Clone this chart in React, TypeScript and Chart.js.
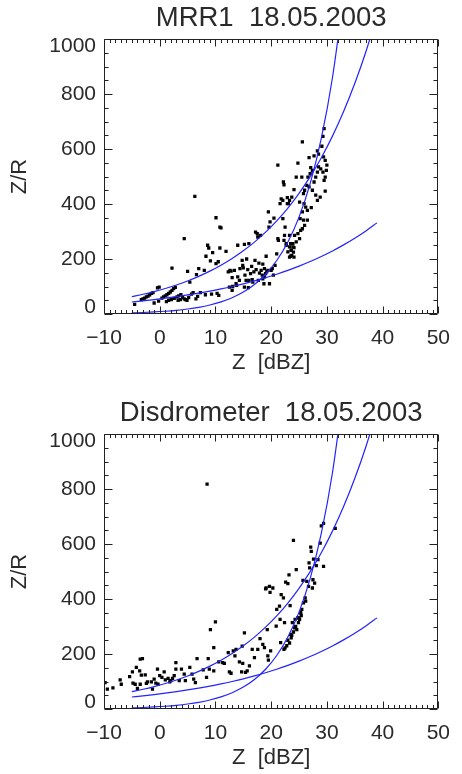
import { useEffect, useRef } from "react";
import { Chart, registerables } from "chart.js";

Chart.register(...registerables);

// ---------- tick values ----------
const X_TICKS = [-10, 0, 10, 20, 30, 40, 50];
const Y_TICKS = [0, 200, 400, 600, 800, 1000];
const X_MINOR_STEP = 1;
const Y_MINOR_STEP = 50;

// ---------- Z-R reference curves ----------
const curveZ = [-5, -3, -1, 1, 3, 5, 7, 9, 11, 13, 15, 17, 19, 21, 23, 25, 27, 29, 31, 33, 35, 37, 39];
const curveLow = [43.7, 47.9, 52.5, 57.6, 63.1, 69.3, 75.9, 83.2, 91.3, 100.1, 109.7, 120.3, 131.9, 144.7, 158.6, 173.9, 190.7, 209.1, 229.3, 251.4, 275.7, 302.2, 331.4];
const curveMid = [63.0, 71.7, 81.6, 92.8, 105.6, 120.2, 136.9, 155.8, 177.3, 201.8, 229.7, 261.4, 297.5, 338.6, 385.4, 438.7, 499.3, 568.3, 646.8, 736.2, 837.9, 953.7, 1087];
const curveSteep = [4.1, 5.5, 7.4, 10.0, 13.4, 18.1, 24.3, 32.7, 44.1, 59.3, 79.8, 107.4, 144.6, 194.5, 261.8, 352.4, 474.2, 638.3, 859.0, 1156];

// ---------- MRR1 scatter ----------
const mrrZ = [
  -4.5, -3.3, -3.0, -2.7, -2.4, -2.1, -1.8, -1.5, -1.2, -0.4, -0.1, -1.0, -0.2,
  0.4, 0.7, 1.0, 1.3, 1.6, 1.9, 2.2, 2.5, 2.8, 1.2, 1.6, 2.1, 2.6, 2.2,
  3.1, 3.4, 3.8, 4.1, 4.4, 3.3, 3.7, 4.4, 4.6, 4.9, 5.2, 5.0, 5.4, 5.7, 6.0,
  6.3, 6.5, 6.8, 6.6, 7.0, 7.3, 8.0, 8.2, 8.3, 8.6, 8.8, 9.1, 9.3, 9.5,
  10.1, 10.1, 10.3, 10.6, 10.8, 10.5, 12.5, 13.0, 13.1, 15.9,
  10.8, 11.0, 11.9, 12.3, 12.6, 12.8, 13.0, 13.4, 13.7, 13.8, 14.0, 14.0, 14.3, 14.4,
  14.8, 14.9, 15.0, 15.2, 15.2, 15.3, 15.5, 15.6, 15.8, 16.0, 16.0, 16.3, 16.5, 16.6,
  16.7, 16.9, 17.1, 17.2, 17.3, 17.5, 17.6, 17.7, 17.8, 17.9, 18.1, 18.2, 18.4, 18.5,
  18.5, 18.7, 18.8, 18.8, 19.0, 19.1, 19.2, 19.4, 19.5, 19.6, 19.8, 19.7, 20.0, 20.2,
  20.4, 20.7, 21.0, 21.2, 21.3, 21.6, 21.8, 22.1, 22.1, 22.3, 22.4, 22.5, 22.7, 22.9,
  23.1, 23.3, 23.5, 23.6, 23.7, 23.9, 24.0, 24.1, 21.2, 22.2, 22.3, 20.5,
  25.6, 24.8, 25.5, 24.5, 26.8, 27.7, 28.3, 28.5, 29.1, 29.3, 29.5, 29.4, 29.7, 30.0,
  29.9, 29.7, 29.5, 29.3, 28.9, 28.5, 28.3, 28.0, 27.7, 27.4, 27.1, 27.0, 26.6, 26.4,
  26.0, 25.8, 26.8, 27.4, 28.0, 28.3, 28.8, 29.7, 27.2, 24.1, 23.7, 23.3, 22.9, 25.1,
  25.9, 26.2, 26.5, 25.6, 25.2, 25.8, 26.5, 26.0, 25.3, 25.6, 24.8, 24.2, 24.5, 25.1,
  23.9, 23.3, 22.7, 23.6, 23.0, 23.5, 24.1, 23.3
];
const mrrZR = [
  35, 52, 55, 58, 62, 65, 70, 75, 78, 95, 98, 40, 47,
  58, 62, 66, 70, 75, 80, 86, 92, 97, 45, 50, 52, 57, 167,
  62, 66, 70, 60, 55, 50, 52, 274, 52, 50, 60, 155, 116, 72, 78,
  428, 55, 64, 143, 165, 78, 159, 70, 210, 250, 240, 193, 72, 223,
  350, 183, 75, 68, 316, 190, 98, 86, 100, 96,
  240, 313, 228, 153, 159, 156, 132, 159, 110, 104, 250, 135, 122, 165,
  195, 177, 168, 253, 98, 141, 122, 200, 161, 256, 122, 147, 173, 125,
  116, 153, 195, 298, 161, 292, 280, 122, 185, 149, 286, 159, 141, 181,
  128, 110, 165, 135, 147, 210, 153, 159, 371, 316, 335, 110, 159, 165,
  141, 177, 219, 274, 268, 401, 419, 413, 347, 268, 286, 316, 250, 423,
  401, 286, 256, 231, 213, 244, 225, 207, 541, 480, 470, 349,
  626, 549, 498, 498, 569, 575, 593, 581, 610, 646, 674, 571, 559, 541,
  522, 498, 486, 516, 528, 535, 516, 498, 480, 522, 532, 510, 498, 468,
  450, 438, 462, 450, 432, 413, 425, 447, 387, 452, 425, 413, 401, 407,
  401, 389, 377, 371, 347, 341, 341, 322, 304, 310, 292, 286, 262, 274,
  256, 244, 256, 232, 226, 210, 241, 207
];

// ---------- Disdrometer scatter ----------
const disZ = [
  -9.8, -9.4, -8.4, -7.1, -6.9, -5.4, -4.9, -4.8, -4.4, -4.2, -4.0, -3.6, -3.5, -3.1,
  -3.5, -3.3, -2.6, -2.4, -2.2, -1.5, -1.3, -1.0, -0.7, -0.4, -0.3, 0.0, 0.4, 0.8,
  1.0, 1.5, 1.8, 2.0, 2.3, 2.6, 2.9, 2.9, 3.5, 3.9, 4.4, 4.6, 5.4, 5.8, 6.1, 6.4,
  6.7, 7.8, 8.4, 8.5, 8.7, 8.9, 9.1, 9.7, 9.7, 10.0, 10.6, 11.3, 11.6, 12.3, 12.5,
  12.8, 13.2, 13.5, 13.7, 14.3, 14.7, 14.8, 14.9, 15.2, 15.4, 15.7, 16.1, 16.6, 17.0,
  17.6, 18.0, 18.5, 18.8, 19.0, 19.1, 19.3, 19.4, 19.5, 19.7, 19.8, 19.9, 20.3, 20.9,
  21.0, 21.5, 21.6, 21.7, 21.8, 22.2, 22.3, 22.4, 22.6, 23.0, 23.2, 23.4, 23.5, 23.6,
  23.8, 24.0, 24.3, 24.5, 24.6, 24.8, 24.9, 25.1, 25.3, 25.5, 25.7, 25.8, 26.1, 26.2,
  26.4, 26.7, 26.8, 26.9, 27.1, 27.2, 27.4, 27.5, 27.6, 27.8, 28.1, 28.4, 28.8, 29.0,
  29.4, 29.4, 31.5, 23.0, 23.3, 23.7, 24.0, 24.4, 25.0, 25.4, 22.8, 22.5, 24.2
];
const disZR = [
  96, 72, 77, 106, 90, 118, 135, 94, 90, 151, 75, 139, 181, 183,
  90, 123, 124, 93, 99, 99, 72, 109, 94, 145, 90, 121, 115, 135,
  106, 111, 99, 103, 111, 121, 169, 145, 103, 145, 127, 103, 151, 127, 109, 96,
  183, 142, 115, 818, 183, 145, 289, 139, 223, 317, 171, 169, 166, 205, 135,
  130, 211, 193, 217, 171, 135, 229, 166, 277, 133, 139, 157, 217, 187,
  217, 256, 235, 223, 437, 440, 289, 193, 178, 446, 424, 211, 440, 301,
  362, 374, 326, 241, 416, 404, 217, 314, 461, 456, 488, 376, 271, 259,
  314, 613, 326, 507, 289, 332, 314, 326, 350, 362, 468, 386, 404, 392,
  464, 446, 531, 513, 589, 573, 440, 470, 545, 458, 521, 543, 603, 666,
  675, 519, 657, 250, 240, 268, 280, 300, 330, 340, 230, 222, 295
];

const FONT = "'Liberation Sans', Arial, Helvetica, sans-serif";
const TEXT = "#2a2a2a";
const BLUE = "rgb(35,35,255)";

const zip = (xs: number[], ys: number[]) =>
  ys.map((y, i) => ({ x: xs[i], y }));

const framePlugin = {
  id: "idlFrame",
  afterDatasetsDraw(chart: any) {
    const { ctx, chartArea: a, scales } = chart;
    const xs = scales.x;
    const ys = scales.y;
    ctx.save();
    ctx.strokeStyle = "#222";
    ctx.lineWidth = 1;
    const L = Math.round(a.left) + 0.5;
    const R = Math.round(a.right) - 0.5;
    const T = Math.round(a.top) + 0.5;
    const B = Math.round(a.bottom) - 0.5;
    ctx.beginPath();
    ctx.rect(L, T, R - L, B - T);
    ctx.stroke();
    ctx.beginPath();
    const xMin = X_TICKS[0];
    const xMax = X_TICKS[X_TICKS.length - 1];
    for (let v = xMin; v <= xMax + 1e-9; v += X_MINOR_STEP) {
      const major = X_TICKS.includes(Math.round(v));
      const len = major ? 7 : 3.5;
      const px = Math.round(xs.getPixelForValue(v)) + 0.5;
      ctx.moveTo(px, B);
      ctx.lineTo(px, B - len);
      ctx.moveTo(px, T);
      ctx.lineTo(px, T + len);
    }
    const yMin = Y_TICKS[0];
    const yMax = Y_TICKS[Y_TICKS.length - 1];
    for (let v = yMin; v <= yMax + 1e-9; v += Y_MINOR_STEP) {
      const major = Y_TICKS.includes(Math.round(v));
      const len = major ? 8 : 4;
      const py = Math.round(ys.getPixelForValue(v)) + 0.5;
      ctx.moveTo(L, py);
      ctx.lineTo(L + len, py);
      ctx.moveTo(R, py);
      ctx.lineTo(R - len, py);
    }
    ctx.stroke();

    // y tick labels, IDL style: end labels pulled inside the axis range
    ctx.fillStyle = TEXT;
    ctx.font = "21px " + FONT;
    ctx.textAlign = "right";
    ctx.textBaseline = "middle";
    Y_TICKS.forEach((v, i) => {
      let py = ys.getPixelForValue(v);
      if (i === 0) py -= 7;
      if (i === Y_TICKS.length - 1) py += 7;
      ctx.fillText(String(v), a.left - 8, py);
    });
    ctx.restore();
  },
};

function curveDataset(values: number[]) {
  return {
    type: "line" as const,
    data: zip(curveZ, values),
    borderColor: BLUE,
    borderWidth: 1.2,
    pointRadius: 0,
    fill: false,
    cubicInterpolationMode: "monotone" as const,
    clip: 0,
  };
}

function Panel({ title, zs, rs, rightPad }: { title: string; zs: number[]; rs: number[]; rightPad: number }) {
  const ref = useRef<HTMLCanvasElement>(null);
  useEffect(() => {
    const chart = new Chart(ref.current as HTMLCanvasElement, {
      type: "scatter",
      data: {
        datasets: [
          curveDataset(curveMid) as any,
          curveDataset(curveLow) as any,
          curveDataset(curveSteep) as any,
          {
            type: "scatter",
            data: zip(zs, rs),
            pointStyle: "rect",
            pointRadius: 2.3,
            pointBorderWidth: 0,
            borderWidth: 0,
            backgroundColor: "#000",
            pointBackgroundColor: "#000",
            clip: 0,
          },
        ],
      },
      options: {
        animation: false,
        responsive: false,
        events: [],
        layout: { padding: { left: 0, right: rightPad, top: 0, bottom: 0 } },
        plugins: {
          legend: { display: false },
          tooltip: { enabled: false },
          title: {
            display: true,
            text: title,
            fullSize: false,
            color: TEXT,
            font: { family: FONT, size: 27.5, weight: "normal" },
            padding: { top: 1.5, bottom: 4.5 },
          },
        },
        scales: {
          x: {
            type: "linear",
            min: X_TICKS[0],
            max: X_TICKS[X_TICKS.length - 1],
            afterBuildTicks: (s: any) => {
              s.ticks = X_TICKS.map((v) => ({ value: v }));
            },
            grid: { display: false, drawTicks: false },
            border: { display: false },
            ticks: {
              color: TEXT,
              font: { family: FONT, size: 21 },
              padding: 12,
              maxRotation: 0,
              autoSkip: false,
              callback: (v: any) => (Number(v) < 0 ? "\u2212" + Math.abs(Number(v)) : String(v)),
            },
            title: {
              display: true,
              text: "Z  [dBZ]",
              color: TEXT,
              font: { family: FONT, size: 22 },
              padding: { top: 0, bottom: 18.8 },
            },
            afterFit: (s: any) => {
              s.height = 81;
            },
          },
          y: {
            type: "linear",
            min: Y_TICKS[0],
            max: Y_TICKS[Y_TICKS.length - 1],
            afterBuildTicks: (s: any) => {
              s.ticks = Y_TICKS.map((v) => ({ value: v }));
            },
            grid: { display: false, drawTicks: false },
            border: { display: false },
            ticks: { display: false },
            title: {
              display: true,
              text: "Z/R",
              color: TEXT,
              font: { family: FONT, size: 22 },
              padding: { top: 6.8, bottom: 0 },
            },
            afterFit: (s: any) => {
              s.width = 104;
            },
          },
        },
      },
      plugins: [framePlugin],
    } as any);
    return () => chart.destroy();
  }, [title, zs, rs, rightPad]);
  return <canvas ref={ref} width={462} height={395} style={{ display: "block", width: 462, height: 395 }} />;
}

export default function App() {
  return (
    <div style={{ position: "absolute", left: 0, top: 0, width: 462, height: 774, overflow: "hidden", background: "#fff" }}>
      <div style={{ position: "absolute", left: 0, top: 0 }}>
        <Panel title={"MRR1  18.05.2003"} zs={mrrZ} rs={mrrZR} rightPad={14} />
      </div>
      <div style={{ position: "absolute", left: 0, top: 395 }}>
        <Panel title={"Disdrometer  18.05.2003"} zs={disZ} rs={disZR} rightPad={13} />
      </div>
    </div>
  );
}
